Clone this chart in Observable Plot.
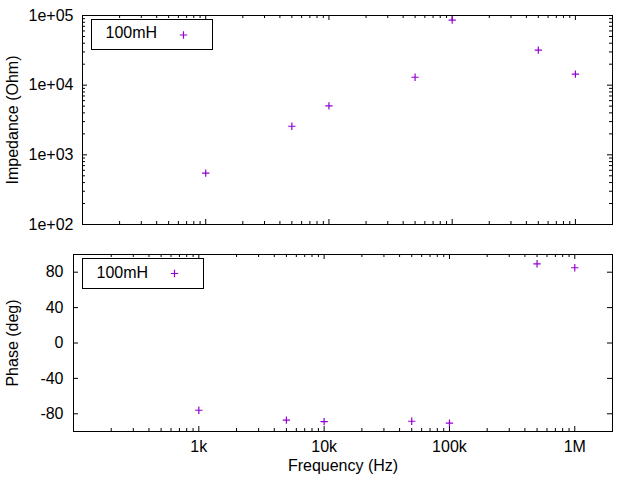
<!DOCTYPE html>
<html><head><meta charset="utf-8">
<script src="https://cdn.jsdelivr.net/npm/d3@7"></script>
<script src="https://cdn.jsdelivr.net/npm/@observablehq/plot@0.6"></script>
<style>body{margin:0;background:#fff;} svg{display:block;}</style>
</head><body><div id="chart"></div>
<script>
const seriesName = "100mH";
const frequency = [1e3, 5e3, 1e4, 5e4, 1e5, 5e5, 1e6];
const impedance = [545, 2570, 5050, 13000, 85700, 31800, 14400];
const phase = [-76, -87.2, -88.8, -88.4, -90.6, 89.5, 85];
const xDomain = [100, 2e6];
const impDomain = [100, 1e5];
const phaseDomain = [-100, 100];
const impTicks = [1e2, 1e3, 1e4, 1e5];
const impTickLabels = ["1e+02", "1e+03", "1e+04", "1e+05"];
const phaseTicks = [-80, -40, 0, 40, 80];
const phaseTickLabels = ["-80", "-40", "0", "40", "80"];
const freqTicks = [1e3, 1e4, 1e5, 1e6];
const freqTickLabels = ["1k", "10k", "100k", "1M"];
const color = "#9400D3";
const W = 640;
const MAJ = 5, MIN = 3;

const rows = frequency.map((f, i) => ({f, z: impedance[i], p: phase[i]}));
const isMajor = v => Math.abs(Math.log10(v) - Math.round(Math.log10(v))) < 1e-9;
const xAll = d3.scaleLog().domain(xDomain).ticks();
const xMaj = xAll.filter(isMajor), xMin = xAll.filter(v => !isMajor(v));
const zAll = d3.scaleLog().domain(impDomain).ticks();
const zMaj = zAll.filter(isMajor), zMin = zAll.filter(v => !isMajor(v));

const style = {fontFamily: "'Liberation Sans', Arial, sans-serif", fontSize: "16px", color: "black", background: "white", overflow: "visible"};

function xTickMarks(H) {
  return [
    Plot.tickX(xMaj, {x: d => d, insetTop: H - MAJ, stroke: "black"}),
    Plot.tickX(xMin, {x: d => d, insetTop: H - MIN, stroke: "black"}),
    Plot.tickX(xMaj, {x: d => d, insetBottom: H - MAJ, stroke: "black"}),
    Plot.tickX(xMin, {x: d => d, insetBottom: H - MIN, stroke: "black"})
  ];
}
function yTickMarks(vals, len, PW) {
  return [
    Plot.tickY(vals, {y: d => d, insetRight: PW - len, stroke: "black"}),
    Plot.tickY(vals, {y: d => d, insetLeft: PW - len, stroke: "black"})
  ];
}

// Top panel
const t = {height: 240, mt: 15, mb: 16, ml: 82, mr: 28};
const tH = t.height - t.mt - t.mb, tW = W - t.ml - t.mr;
const topPlot = Plot.plot({
  width: W, height: t.height,
  marginTop: t.mt, marginBottom: t.mb, marginLeft: t.ml, marginRight: t.mr,
  style,
  x: {type: "log", domain: xDomain, axis: null},
  y: {type: "log", domain: impDomain},
  marks: [
    ...xTickMarks(tH),
    ...yTickMarks(zMaj, MAJ, tW),
    ...yTickMarks(zMin, MIN, tW),
    Plot.axisY({ticks: impTicks, label: null, tickSize: 0, tickPadding: 9, tickFormat: d => impTickLabels[impTicks.indexOf(d)]}),
    Plot.frame({stroke: "black", strokeWidth: 1}),
    Plot.frame({insetLeft: 9, insetTop: 4, insetRight: tW - 130, insetBottom: tH - 34, stroke: "black", strokeWidth: 1}),
    Plot.text([seriesName], {frameAnchor: "top-left", dx: 23, dy: 17, textAnchor: "start", lineAnchor: "middle", fill: "black"}),
    Plot.dot([seriesName], {frameAnchor: "top-left", dx: 101, dy: 19.5, symbol: "plus", r: 2.5, stroke: color, strokeWidth: 1.2}),
    Plot.text(["Impedance (Ohm)"], {frameAnchor: "left", dx: -69.5, rotate: -90, textAnchor: "middle", lineAnchor: "middle", fill: "black"}),
    Plot.dot(rows, {x: "f", y: "z", symbol: "plus", r: 2.5, stroke: color, strokeWidth: 1.2})
  ]
});

// Bottom panel
const b = {height: 240, mt: 14, mb: 49, ml: 73, mr: 28};
const bH = b.height - b.mt - b.mb, bW = W - b.ml - b.mr;
const bottomPlot = Plot.plot({
  width: W, height: b.height,
  marginTop: b.mt, marginBottom: b.mb, marginLeft: b.ml, marginRight: b.mr,
  style,
  x: {type: "log", domain: xDomain},
  y: {domain: phaseDomain},
  marks: [
    ...xTickMarks(bH),
    ...yTickMarks(phaseTicks, MAJ, bW),
    Plot.axisY({ticks: phaseTicks, label: null, tickSize: 0, tickPadding: 10, tickFormat: d => phaseTickLabels[phaseTicks.indexOf(d)]}),
    Plot.axisX({ticks: freqTicks, label: null, tickSize: 0, tickPadding: 9, tickFormat: d => freqTickLabels[freqTicks.indexOf(d)]}),
    Plot.frame({stroke: "black", strokeWidth: 1}),
    Plot.frame({insetLeft: 9, insetTop: 4, insetRight: bW - 130, insetBottom: bH - 34, stroke: "black", strokeWidth: 1}),
    Plot.text([seriesName], {frameAnchor: "top-left", dx: 23, dy: 18, textAnchor: "start", lineAnchor: "middle", fill: "black"}),
    Plot.dot([seriesName], {frameAnchor: "top-left", dx: 101, dy: 19, symbol: "plus", r: 2.5, stroke: color, strokeWidth: 1.2}),
    Plot.text(["Phase (deg)"], {frameAnchor: "left", dx: -60.5, rotate: -90, textAnchor: "middle", lineAnchor: "middle", fill: "black"}),
    Plot.text(["Frequency (Hz)"], {frameAnchor: "bottom", dy: 34, textAnchor: "middle", lineAnchor: "middle", fill: "black"}),
    Plot.dot(rows, {x: "f", y: "p", symbol: "plus", r: 2.5, stroke: color, strokeWidth: 1.2})
  ]
});

const el = document.getElementById("chart");
el.appendChild(topPlot);
el.appendChild(bottomPlot);
</script>
</body></html>
